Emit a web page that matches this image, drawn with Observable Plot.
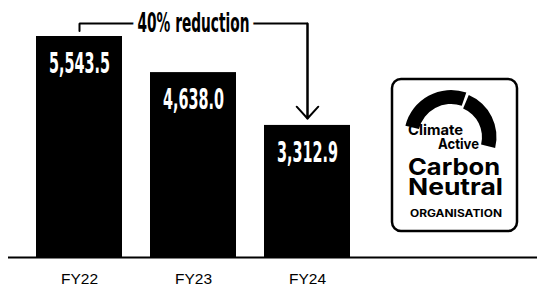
<!DOCTYPE html>
<html><head><meta charset="utf-8">
<script src="https://cdn.jsdelivr.net/npm/d3@7"></script>
<script src="https://cdn.jsdelivr.net/npm/@observablehq/plot@0.6"></script>
<style>
html,body{margin:0;padding:0;background:#fff;}
#chart svg{display:block;}
</style></head>
<body><div id="chart"></div>
<script>
// ---- data ----
const years = ["FY22", "FY23", "FY24"];
const emissions = [5543.5, 4638.0, 3312.9];
const valueLabels = ["5,543.5", "4,638.0", "3,312.9"];
const annotationText = "40% reduction";
const reductionFrom = "FY22", reductionTo = "FY24", annotationAt = "FY23";
// annotation levels (in data units)
const bracketLevel = 5870;
const bracketTickEnd = 5680;
const arrowTip = 3487;
const logoLines = ["Climate", "Active", "Carbon", "Neutral", "ORGANISATION"];

const data = years.map((year, i) => ({year, value: emissions[i], label: valueLabels[i]}));
const condensed = '"DejaVu Sans", "Liberation Sans", sans-serif';

const svg = Plot.plot({
  width: 537, height: 285,
  marginTop: 36, marginBottom: 28, marginLeft: 8, marginRight: 0,
  style: {fontFamily: '"Liberation Sans", Arial, sans-serif', fontSize: "15px", background: "white", color: "black", overflow: "visible"},
  x: {domain: years, range: [8, 378], padding: 0.2456, label: null},
  y: {domain: [0, d3.max(emissions)], axis: null},
  marks: [
    Plot.barY(data, {x: "year", y: "value", fill: "black"}),
    Plot.ruleY([0], {strokeWidth: 2}),
    Plot.axisX({tickSize: 0, tickPadding: 15, fontSize: 15.5}),
    Plot.text(data, {x: "year", y: "value", text: "label", dy: 27, fill: "white", fontSize: 29, fontWeight: "bold", fontFamily: condensed}),
    Plot.line([
      {x: reductionFrom, y: bracketTickEnd},
      {x: reductionFrom, y: bracketLevel},
      {x: reductionTo, y: bracketLevel},
      {x: reductionTo, y: arrowTip}
    ], {x: "x", y: "y", strokeWidth: 2, strokeLinejoin: "miter"}),
    Plot.arrow([0], {x1: [reductionTo], y1: [bracketLevel], x2: [reductionTo], y2: [arrowTip], strokeWidth: 2, headLength: 12, headAngle: 85}),
    Plot.text([annotationText], {x: [annotationAt], y: [bracketLevel], text: d => d, fill: "black", stroke: "white", strokeWidth: 18, paintOrder: "stroke", fontSize: 26, fontWeight: "bold", fontFamily: condensed})
  ]
});
document.getElementById("chart").appendChild(svg);

// condense the bold label text
d3.select(svg).selectAll("text").each(function() {
  const t = this.textContent;
  let len = null;
  if (valueLabels.includes(t)) len = 61;
  else if (t === annotationText) len = 112;
  if (len) d3.select(this).attr("textLength", len).attr("lengthAdjust", "spacingAndGlyphs");
});

// ---- Climate Active logo ----
const g = d3.select(svg).append("g").attr("class", "logo").attr("text-anchor", "start");
g.append("rect").attr("x", 392).attr("y", 79).attr("width", 125).attr("height", 152)
  .attr("rx", 9).attr("fill", "white").attr("stroke", "black").attr("stroke-width", 2.5);
const deg = Math.PI / 180;
g.append("path").attr("transform", "translate(451,137)")
  .attr("d", d3.arc().innerRadius(33).outerRadius(47)({startAngle: -76 * deg, endAngle: 19 * deg})).attr("fill", "black");
g.append("path").attr("transform", "translate(451,137)")
  .attr("d", d3.arc().innerRadius(31).outerRadius(45.5)({startAngle: 23 * deg, endAngle: 104 * deg})).attr("fill", "black");
const lf = 'Inter, "Liberation Sans", Arial, sans-serif';
const logoText = [
  {t: logoLines[0], x: 408, y: 135, size: 14.5, len: 55},
  {t: logoLines[1], x: 438, y: 148.5, size: 14.5, len: 41},
  {t: logoLines[2], x: 408, y: 174.5, size: 23, len: 92},
  {t: logoLines[3], x: 408, y: 195, size: 23, len: 95},
  {t: logoLines[4], x: 410, y: 217, size: 10, len: 92}
];
for (const d of logoText) {
  g.append("text").attr("x", d.x).attr("y", d.y).attr("text-anchor", "start").attr("font-family", lf).attr("font-weight", 700)
    .attr("font-size", d.size).attr("fill", "black").attr("textLength", d.len)
    .attr("lengthAdjust", "spacingAndGlyphs").text(d.t);
}
</script>
</body></html>
